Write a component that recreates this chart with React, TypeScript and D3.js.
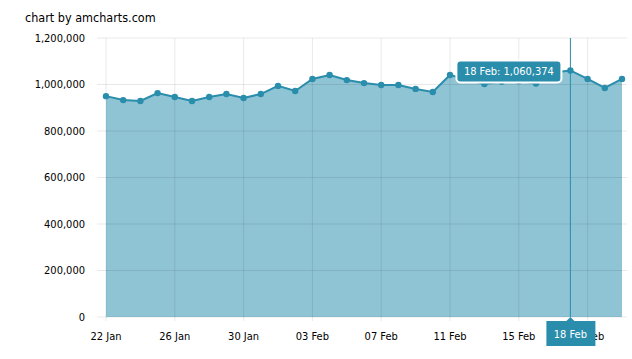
import React from 'react';
import * as d3 from 'd3';

// daily values, 22 Jan .. 21 Feb
const days = [
	'2013-01-22', '2013-01-23', '2013-01-24', '2013-01-25', '2013-01-26', '2013-01-27', '2013-01-28',
	'2013-01-29', '2013-01-30', '2013-01-31', '2013-02-01', '2013-02-02', '2013-02-03', '2013-02-04',
	'2013-02-05', '2013-02-06', '2013-02-07', '2013-02-08', '2013-02-09', '2013-02-10', '2013-02-11',
	'2013-02-12', '2013-02-13', '2013-02-14', '2013-02-15', '2013-02-16', '2013-02-17', '2013-02-18',
	'2013-02-19', '2013-02-20', '2013-02-21',
];
const visits = [
	950000, 933000, 929000, 963000, 946000, 929000, 946000,
	959000, 942000, 959000, 994000, 972000, 1024000, 1041000,
	1019000, 1006000, 998000, 998000, 981000, 968000, 1041000,
	1020000, 1002000, 1012000, 1015000, 1004000, 1052000, 1060374,
	1024000, 985000, 1024000,
];
const yTicks = [0, 200000, 400000, 600000, 800000, 1000000, 1200000];
const cursorDay = '2013-02-18';

const W = 632,
	H = 359,
	left = 106,
	right = 622,
	plotRight = 627,
	top = 38,
	bottom = 317;

const lineColor = '#2a8dab',
	fillColor = '#8fc4d5',
	font = "'DejaVu Sans Condensed', 'DejaVu Sans', sans-serif";

const parse = d3.timeParse( '%Y-%m-%d' );

const App = () => {
	const data = days.map( ( d, i ) => ( { date: parse( d ) as Date, value: visits[ i ] } ) );
	const x = d3
		.scaleTime()
		.domain( d3.extent( data, ( d ) => d.date ) as [ Date, Date ] )
		.range( [ left, right ] );
	const y = d3.scaleLinear().domain( [ 0, 1200000 ] ).range( [ bottom, top ] );
	const xTicks = d3.timeDay.range( data[ 0 ].date, d3.timeDay.offset( data[ data.length - 1 ].date, 1 ), 4 );
	const fmtDate = d3.timeFormat( '%d %b' ),
		fmtNum = d3.format( ',' );

	const line = d3
		.line<{ date: Date; value: number }>()
		.x( ( d ) => x( d.date ) )
		.y( ( d ) => y( d.value ) );
	const area = d3
		.area<{ date: Date; value: number }>()
		.x( ( d ) => x( d.date ) )
		.y0( y( 0 ) )
		.y1( ( d ) => y( d.value ) );

	const cur = data.find( ( d ) => +d.date === +( parse( cursorDay ) as Date ) )!;
	const cx = x( cur.date ),
		cy = y( cur.value );
	const balloonText = `${fmtDate( cur.date )}: ${fmtNum( cur.value )}`;

	return (
		<svg
			width={W}
			height={H}
			style={{ position: 'absolute', left: 0, top: 0, background: '#fff' }}
			fontFamily={font}
		>
			<text x={25} y={22} fontSize={12.5} fill="#000">
				chart by amcharts.com
			</text>

			<path d={area( data ) as string} fill={fillColor} />

			{/* grid drawn over the fill, faint on both */}
			{yTicks.map( ( t ) => (
				<g key={t}>
					<line x1={97} x2={plotRight} y1={y( t )} y2={y( t )} stroke="#000" strokeOpacity={0.09} />
					<text x={85} y={y( t )} dy="0.35em" textAnchor="end" fontSize={11} fill="#000">
						{fmtNum( t )}
					</text>
				</g>
			) )}
			{xTicks.map( ( t ) => (
				<line key={+t} x1={x( t )} x2={x( t )} y1={top} y2={bottom + 4} stroke="#000" strokeOpacity={0.09} />
			) )}

			<path d={line( data ) as string} fill="none" stroke={lineColor} strokeWidth={2} />
			{data.map( ( d ) => (
				<circle key={+d.date} cx={x( d.date )} cy={y( d.value )} r={3.2} fill={lineColor} />
			) )}

			{xTicks.map( ( t ) => (
				<text key={'l' + +t} x={x( t )} y={340} textAnchor="middle" fontSize={11} fill="#000">
					{fmtDate( t )}
				</text>
			) )}

			{/* cursor */}
			<line x1={cx} x2={cx} y1={top} y2={bottom} stroke={lineColor} strokeWidth={1} />

			{/* value balloon */}
			<g>
				<rect
					x={cx - 114}
					y={cy - 10}
					width={105}
					height={22}
					rx={4}
					fill={lineColor}
					stroke="#fff"
					strokeWidth={2}
				/>
				<text x={cx - 61.5} y={cy + 1} dy="0.35em" textAnchor="middle" fontSize={11} fill="#fff">
					{balloonText}
				</text>
			</g>

			{/* category balloon, covers the 19 Feb label as in the original */}
			<g>
				<path
					d={`M${cx - 24},${bottom + 4} H${cx - 4} L${cx},${bottom} L${cx + 4},${bottom + 4} H${cx + 25} V${
						bottom + 29
					} H${cx - 24} Z`}
					fill={lineColor}
				/>
				<text x={cx} y={bottom + 17} dy="0.35em" textAnchor="middle" fontSize={11} fill="#fff">
					{fmtDate( cur.date )}
				</text>
			</g>
		</svg>
	);
};

export default App;
